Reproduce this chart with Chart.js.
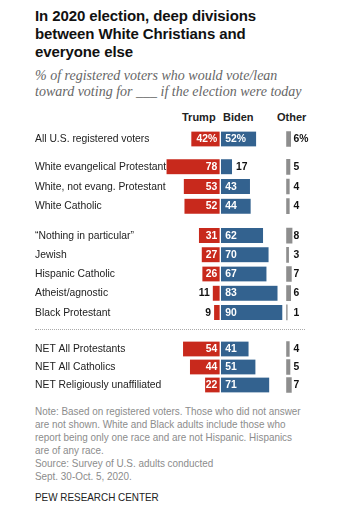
<!DOCTYPE html>
<html>
<head>
<meta charset="utf-8">
<script src="https://cdn.jsdelivr.net/npm/chart.js@4"></script>
<style>
  body { margin: 0; background: #fff; width: 350px; height: 513px; position: relative; overflow: hidden; }
  .abs { position: absolute; }
  .title { left: 35px; top: 7px; width: 300px; font: bold 15px/18px "Liberation Sans", Arial, sans-serif; color: #111; letter-spacing: -0.1px; }
  .sub { left: 35px; top: 68px; width: 330px; font: italic 14px/16px "Liberation Serif", "DejaVu Serif", serif; color: #666; }
  .head { top: 111px; font: bold 11px "Liberation Sans", Arial, sans-serif; color: #222; }
  .dots { left: 35px; top: 329px; width: 270px; border-top: 1px dotted #aaa; }
  .note { left: 35px; top: 405px; white-space: nowrap; font: 11px/13px "Liberation Sans", Arial, sans-serif; color: #8c8c8c; transform: scaleX(0.9); transform-origin: left top; }
  .pew { left: 35px; top: 491px; white-space: nowrap; font: 11px "Liberation Sans", Arial, sans-serif; color: #222; transform: scaleX(0.9); transform-origin: left top; }
  .grp { position: absolute; left: 0; width: 350px; }
</style>
</head>
<body>
<div class="abs title">In 2020 election, deep divisions<br>between White Christians and<br>everyone else</div>
<div class="abs sub">% of registered voters who would vote/lean<br>toward voting for ___ if the election were today</div>
<div class="abs head" style="left:182px">Trump</div>
<div class="abs head" style="left:223px">Biden</div>
<div class="abs head" style="left:277px">Other</div>

<div class="grp" style="top:129px;height:20px"><canvas id="g0"></canvas></div>
<div class="grp" style="top:157px;height:59px"><canvas id="g1"></canvas></div>
<div class="grp" style="top:226px;height:96px"><canvas id="g2"></canvas></div>
<div class="abs dots"></div>
<div class="grp" style="top:340px;height:54px"><canvas id="g3"></canvas></div>

<div class="abs note">Note: Based on registered voters. Those who did not answer<br>are not shown. White and Black adults include those who<br>report being only one race and are not Hispanic. Hispanics<br>are of any race.<br>Source: Survey of U.S. adults conducted<br>Sept. 30-Oct. 5, 2020.</div>
<div class="abs pew">PEW RESEARCH CENTER</div>

<script>
var categories = [
  "All U.S. registered voters",
  "White evangelical Protestant",
  "White, not evang. Protestant",
  "White Catholic",
  "\u201cNothing in particular\u201d",
  "Jewish",
  "Hispanic Catholic",
  "Atheist/agnostic",
  "Black Protestant",
  "NET All Protestants",
  "NET All Catholics",
  "NET Religiously unaffiliated"
]
var trump = [42, 78, 53, 52, 31, 27, 26, 11, 9, 54, 44, 22]
var biden = [52, 17, 43, 44, 62, 70, 67, 83, 90, 41, 51, 71]
var other = [6, 5, 4, 4, 8, 3, 7, 6, 1, 4, 5, 7]
var groupSizes = [1, 3, 5, 3]

var labelFont = '"Liberation Sans", Arial, sans-serif'

// condensed text helper (the original uses a narrow grotesque)
function narrowText(ctx, txt, x, y, align) {
  ctx.save()
  ctx.translate(x, y)
  ctx.scale(0.9, 1)
  ctx.textAlign = align
  ctx.fillText(txt, 0, 0)
  ctx.restore()
}

// row names plus the numbers next to / inside the bars
var valueLabels = {
  id: 'valueLabels',
  afterDatasetsDraw(chart) {
    var ctx = chart.ctx
    var first = chart.options.plugins.valueLabels.first
    ctx.save()
    ctx.textBaseline = 'middle'
    ctx.font = '11.5px ' + labelFont
    ctx.fillStyle = '#222'
    chart.getDatasetMeta(0).data.forEach((bar, i) => {
      narrowText(ctx, chart.data.labels[i], 35, bar.y, 'left')
    })
    ctx.font = 'bold 11.5px ' + labelFont
    chart.data.datasets.forEach((ds, di) => {
      chart.getDatasetMeta(di).data.forEach((bar, i) => {
        var v = ds.values[i]
        var txt = String(v) + (first && i == 0 ? '%' : '')
        var left = Math.min(bar.x, bar.base), right = Math.max(bar.x, bar.base)
        if (di == 0) {
          if (v >= 15) { ctx.fillStyle = '#fff'; narrowText(ctx, txt, right - 3, bar.y, 'right') }
          else { ctx.fillStyle = '#111'; narrowText(ctx, txt, left - 3, bar.y, 'right') }
        } else if (di == 1) {
          if (v >= 25) { ctx.fillStyle = '#fff'; narrowText(ctx, txt, left + 5, bar.y, 'left') }
          else { ctx.fillStyle = '#111'; narrowText(ctx, txt, right + 4, bar.y, 'left') }
        } else {
          ctx.fillStyle = '#111'; narrowText(ctx, txt, left + 7, bar.y, 'left')
        }
      })
    })
    ctx.restore()
  }
}

var start = 0
groupSizes.forEach((n, g) => {
  var names = categories.slice(start, start + n)
  var t = trump.slice(start, start + n)
  var b = biden.slice(start, start + n)
  var o = other.slice(start, start + n)
  start += n
  new Chart(document.getElementById('g' + g), {
    type: 'bar',
    data: {
      labels: names,
      datasets: [
        {
          label: 'Trump',
          values: t,
          data: t.map(v => [-v, 0]),
          backgroundColor: '#c8291c',
          borderColor: '#fff',
          borderWidth: { left: 0, right: 1, top: 0, bottom: 0 },
          borderSkipped: false,
          xAxisID: 'x'
        },
        {
          label: 'Biden',
          values: b,
          data: b.map(v => [0, v]),
          backgroundColor: '#33628f',
          borderColor: '#fff',
          borderWidth: { left: 1, right: 0, top: 0, bottom: 0 },
          borderSkipped: false,
          xAxisID: 'x'
        },
        {
          label: 'Other',
          values: o,
          data: o.map(v => [0, v]),
          backgroundColor: '#8e8e8e',
          borderWidth: 0,
          xAxisID: 'x2'
        }
      ]
    },
    options: {
      indexAxis: 'y',
      responsive: true,
      maintainAspectRatio: false,
      animation: false,
      layout: { padding: { left: 151.3, right: 40, top: 0, bottom: 0 } },
      datasets: { bar: { grouped: false, barThickness: 15 } },
      scales: {
        x: { min: -100, max: 130, display: false },
        x2: { min: -196, max: 34, display: false },
        y: { display: false }
      },
      plugins: {
        legend: { display: false },
        tooltip: { enabled: false },
        valueLabels: { first: g == 0 }
      }
    },
    plugins: [valueLabels]
  })
})
</script>
</body>
</html>
